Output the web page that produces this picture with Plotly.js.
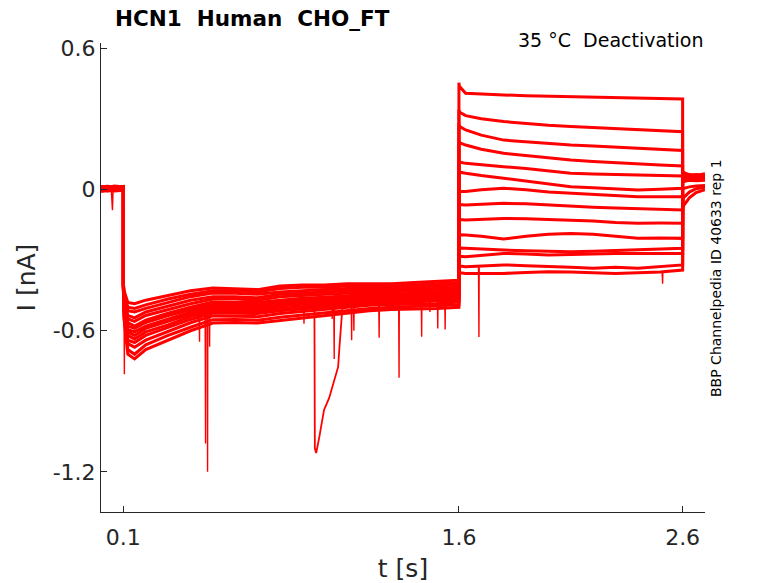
<!DOCTYPE html>
<html>
<head>
<meta charset="utf-8">
<script src="https://cdn.plot.ly/plotly-3.0.1.min.js"></script>
<style>
  html, body { margin: 0; padding: 0; background: #fff; }
  #chart { width: 778px; height: 583px; }
</style>
</head>
<body>
<div id="chart"></div>
<script>
/* ── Data ─────────────────────────────────────────────────────────────────
 * Deactivation protocol, 14 sweeps sharing one time base.
 * Segments: hold (0–0.1 s), activation (0.1–1.6 s), test (1.6–2.6 s), tail.
 * ──────────────────────────────────────────────────────────────────────── */

const tSec = [
  0, 0.03, 0.06, 0.1,
  0.1, 0.103, 0.12, 0.15, 0.2, 0.3, 0.4, 0.5, 0.6, 0.7, 0.8, 0.9, 1.0, 1.1, 1.2, 1.3, 1.4, 1.5, 1.6,
  1.6, 1.602, 1.63, 1.7, 1.8, 1.9, 2.0, 2.1, 2.2, 2.3, 2.4, 2.5, 2.6,
  2.6, 2.603, 2.63, 2.66, 2.7,
];

const sweep01 = [0.004, 0.008, 0.002, 0.006,
  -0.41, -0.485, -0.58, -0.59, -0.565, -0.535, -0.51, -0.487, -0.488, -0.49, -0.478, -0.47, -0.465, -0.458, -0.455, -0.45, -0.448, -0.445, -0.44,
  0.455, 0.44, 0.41, 0.406, 0.403, 0.40, 0.398, 0.396, 0.394, 0.392, 0.389, 0.388, 0.386,
  0.07, 0.075, 0.06, 0.065, 0.06];
const sweep02 = [0.010, 0.005, 0.012, 0.008,
  -0.40, -0.45, -0.515, -0.52, -0.505, -0.48, -0.455, -0.44, -0.44, -0.445, -0.435, -0.43, -0.425, -0.42, -0.42, -0.415, -0.415, -0.41, -0.405,
  0.34, 0.33, 0.315, 0.302, 0.29, 0.281, 0.274, 0.269, 0.264, 0.26, 0.257, 0.252, 0.247,
  0.065, 0.055, 0.06, 0.05, 0.058];
const sweep03 = [-0.004, 0.002, -0.002, 0.004,
  -0.415, -0.515, -0.64, -0.65, -0.62, -0.587, -0.552, -0.525, -0.525, -0.527, -0.515, -0.507, -0.498, -0.49, -0.483, -0.48, -0.477, -0.475, -0.47,
  0.28, 0.27, 0.254, 0.232, 0.211, 0.203, 0.196, 0.19, 0.186, 0.181, 0.177, 0.172, 0.167,
  0.06, 0.05, 0.055, 0.062, 0.052];
const sweep04 = [0.012, 0.015, 0.010, 0.014,
  -0.40, -0.43, -0.48, -0.485, -0.47, -0.45, -0.43, -0.418, -0.42, -0.425, -0.41, -0.405, -0.405, -0.40, -0.40, -0.40, -0.395, -0.39, -0.385,
  0.21, 0.20, 0.19, 0.172, 0.155, 0.145, 0.135, 0.126, 0.12, 0.114, 0.109, 0.105, 0.101,
  0.055, 0.065, 0.05, 0.058, 0.063];
const sweep05 = [0.0, -0.005, 0.003, 0.0,
  -0.41, -0.49, -0.595, -0.605, -0.58, -0.55, -0.52, -0.495, -0.495, -0.498, -0.487, -0.478, -0.472, -0.465, -0.46, -0.457, -0.455, -0.452, -0.448,
  0.125, 0.118, 0.112, 0.105, 0.098, 0.09, 0.08, 0.07, 0.067, 0.064, 0.063, 0.06, 0.058,
  0.05, 0.045, 0.06, 0.05, 0.055];
const sweep06 = [0.008, 0.004, 0.009, 0.011,
  -0.42, -0.55, -0.70, -0.72, -0.68, -0.64, -0.60, -0.567, -0.565, -0.567, -0.556, -0.547, -0.535, -0.525, -0.515, -0.51, -0.508, -0.505, -0.50,
  0.08, 0.075, 0.07, 0.06, 0.049, 0.038, 0.025, 0.013, 0.008, 0.003, -0.001, 0.002, 0.006,
  0.04, 0.05, 0.045, 0.055, 0.05];
const sweep07 = [-0.008, -0.003, -0.006, -0.002,
  -0.405, -0.47, -0.55, -0.56, -0.535, -0.51, -0.485, -0.465, -0.465, -0.47, -0.455, -0.45, -0.445, -0.44, -0.435, -0.435, -0.43, -0.43, -0.425,
  -0.005, -0.008, -0.008, 0.0, 0.006, 0.0, -0.01, -0.015, -0.02, -0.027, -0.03, -0.03, -0.03,
  0.045, 0.04, 0.05, 0.045, 0.048];
const sweep08 = [0.006, 0.010, 0.004, 0.009,
  -0.415, -0.51, -0.62, -0.635, -0.605, -0.575, -0.54, -0.515, -0.515, -0.517, -0.505, -0.497, -0.49, -0.482, -0.475, -0.472, -0.47, -0.468, -0.462,
  -0.06, -0.063, -0.065, -0.062, -0.058, -0.06, -0.066, -0.072, -0.075, -0.078, -0.08, -0.083, -0.086,
  0.06, 0.07, 0.065, 0.06, 0.068];
const sweep09 = [0.014, 0.009, 0.016, 0.012,
  -0.40, -0.44, -0.50, -0.505, -0.49, -0.465, -0.445, -0.43, -0.43, -0.435, -0.42, -0.415, -0.415, -0.41, -0.41, -0.41, -0.405, -0.40, -0.395,
  -0.125, -0.127, -0.129, -0.125, -0.122, -0.124, -0.127, -0.129, -0.133, -0.14, -0.143, -0.142, -0.143,
  0.05, 0.06, 0.055, 0.045, 0.05];
const sweep10 = [0.002, -0.002, 0.005, 0.001,
  -0.415, -0.525, -0.655, -0.67, -0.64, -0.602, -0.566, -0.537, -0.537, -0.54, -0.527, -0.518, -0.508, -0.50, -0.492, -0.488, -0.487, -0.485, -0.478,
  -0.19, -0.192, -0.193, -0.198, -0.21, -0.198, -0.19, -0.186, -0.19, -0.20, -0.207, -0.205, -0.207,
  0.04, 0.035, 0.045, 0.05, 0.042];
const sweep11 = [0.007, 0.012, 0.006, 0.010,
  -0.41, -0.48, -0.565, -0.58, -0.555, -0.525, -0.50, -0.478, -0.48, -0.48, -0.47, -0.462, -0.458, -0.45, -0.445, -0.445, -0.44, -0.44, -0.432,
  -0.245, -0.248, -0.249, -0.253, -0.257, -0.26, -0.263, -0.264, -0.262, -0.258, -0.257, -0.253, -0.249,
  0.03, 0.035, 0.04, 0.038, 0.04];
const sweep12 = [-0.002, 0.003, 0.0, 0.005,
  -0.42, -0.54, -0.68, -0.70, -0.66, -0.62, -0.585, -0.553, -0.552, -0.555, -0.543, -0.533, -0.522, -0.513, -0.505, -0.50, -0.497, -0.495, -0.49,
  -0.28, -0.283, -0.285, -0.278, -0.271, -0.274, -0.278, -0.276, -0.273, -0.271, -0.271, -0.272, -0.271,
  0.0, 0.005, 0.012, 0.016, 0.018];
const sweep13 = [0.011, 0.006, 0.013, 0.008,
  -0.405, -0.46, -0.535, -0.545, -0.52, -0.495, -0.47, -0.455, -0.455, -0.46, -0.445, -0.44, -0.435, -0.43, -0.43, -0.425, -0.425, -0.42, -0.415,
  -0.32, -0.324, -0.328, -0.325, -0.32, -0.323, -0.328, -0.33, -0.334, -0.33, -0.334, -0.326, -0.32,
  -0.08, -0.07, -0.035, -0.012, 0.0];
const sweep14 = [0.003, 0.007, 0.001, 0.004,
  -0.41, -0.50, -0.605, -0.62, -0.59, -0.56, -0.53, -0.505, -0.504, -0.507, -0.495, -0.487, -0.48, -0.472, -0.467, -0.465, -0.46, -0.46, -0.455,
  -0.35, -0.353, -0.356, -0.357, -0.356, -0.352, -0.349, -0.35, -0.353, -0.356, -0.353, -0.35, -0.342,
  -0.045, -0.035, -0.01, 0.004, 0.01];

const sweeps = [sweep01, sweep02, sweep03, sweep04, sweep05, sweep06, sweep07,
  sweep08, sweep09, sweep10, sweep11, sweep12, sweep13, sweep14];

// Short downward artefacts: time, level before/after, lowest value
const spikeT    = [0.05, 0.104, 0.44, 0.467, 0.476, 0.485, 0.907, 1.033, 1.042, 1.12, 1.13, 1.243, 1.332, 1.433, 1.47, 1.505, 1.538, 1.689, 2.51];
const spikeBase = [0.0, -0.45, -0.50, -0.50, -0.48, -0.50, -0.49, -0.47, -0.47, -0.47, -0.47, -0.47, -0.46, -0.46, -0.45, -0.45, -0.45, -0.33, -0.35];
const spikeMin  = [-0.087, -0.785, -0.647, -1.08, -1.2, -0.668, -0.57, -0.55, -0.72, -0.64, -0.60, -0.63, -0.80, -0.626, -0.52, -0.59, -0.595, -0.627, -0.40];

// Slow-recovering artefact around 1 s
const transT = [0.95, 0.954, 0.956, 0.962, 0.975, 0.997, 1.02, 1.042, 1.06, 1.066, 1.075, 1.08];
const transV = [-0.49, -0.50, -1.10, -1.12, -1.057, -0.937, -0.886, -0.81, -0.754, -0.669, -0.542, -0.49];

const xTicks = [0.1, 1.6, 2.6];
const xTickText = ['0.1', '1.6', '2.6'];
const yTicks = [-1.2, -0.6, 0, 0.6];
const yTickText = ['-1.2', '-0.6', '0', '0.6'];

/* ── Traces ───────────────────────────────────────────────────────────── */

const RED = '#ff0000';
const FONT = "'DejaVu Sans', sans-serif";
const INK = '#262626';
const NB = '\u00a0';

const traces = sweeps.map(v => ({
  type: 'scatter',
  mode: 'lines',
  x: tSec,
  y: v,
  line: { color: RED, width: 3 },
  hoverinfo: 'skip',
}));

// spikes joined into one trace, separated by gaps
const spX = [];
const spY = [];
for (let i = 0; i < spikeT.length; i++) {
  const w = i === 0 ? 0.004 : 0.0015;
  spX.push(spikeT[i] - w, spikeT[i] - w * 0.3, spikeT[i] + w * 0.3, spikeT[i] + w, null);
  spY.push(spikeBase[i], spikeMin[i], spikeMin[i], spikeBase[i], null);
}
traces.push({
  type: 'scatter', mode: 'lines', x: spX, y: spY,
  line: { color: RED, width: 1.4 }, connectgaps: false, hoverinfo: 'skip',
});
traces.push({
  type: 'scatter', mode: 'lines', x: transT, y: transV,
  line: { color: RED, width: 1.8 }, hoverinfo: 'skip',
});

/* ── Layout ───────────────────────────────────────────────────────────── */

const axisCommon = {
  showline: true,
  linecolor: INK,
  linewidth: 1,
  showgrid: false,
  zeroline: false,
  ticks: 'inside',
  ticklen: 6,
  tickcolor: INK,
  tickfont: { family: FONT, size: 22, color: INK },
  tickmode: 'array',
};

const layout = {
  width: 778,
  height: 583,
  paper_bgcolor: '#ffffff',
  plot_bgcolor: '#ffffff',
  showlegend: false,
  margin: { l: 101, r: 73, t: 43, b: 71 },
  title: {
    text: '<b>HCN1' + NB + NB + 'Human' + NB + NB + 'CHO_FT</b>',
    font: { family: FONT, size: 21.5, color: '#000' },
    xref: 'container', yref: 'container',
    x: 115 / 778, xanchor: 'left',
    y: 1 - 18 / 583, yanchor: 'middle',
  },
  xaxis: Object.assign({}, axisCommon, {
    range: [0, 2.7],
    tickvals: xTicks,
    ticktext: xTickText,
    ticklabelstandoff: 6,
    title: { text: 't [s]', font: { family: FONT, size: 25, color: INK }, standoff: 10 },
  }),
  yaxis: Object.assign({}, axisCommon, {
    range: [-1.371, 0.624],
    tickvals: yTicks,
    ticktext: yTickText,
    title: { text: 'I [nA]', font: { family: FONT, size: 25, color: INK }, standoff: 9 },
  }),
  annotations: [
    {
      text: '35 °C' + NB + NB + 'Deactivation',
      xref: 'paper', yref: 'paper',
      x: 1.0, xanchor: 'right',
      y: (512 - 40) / 469, yanchor: 'middle',
      showarrow: false,
      font: { family: FONT, size: 19, color: '#000' },
    },
    {
      text: 'BBP Channelpedia ID 40633 rep 1',
      xref: 'paper', yref: 'paper',
      x: (716 - 101) / 604, xanchor: 'center',
      y: (512 - 278) / 469, yanchor: 'middle',
      textangle: -90,
      showarrow: false,
      font: { family: FONT, size: 14, color: '#000' },
    },
  ],
};

Plotly.newPlot('chart', traces, layout, { displayModeBar: false, staticPlot: true });
</script>
</body>
</html>
